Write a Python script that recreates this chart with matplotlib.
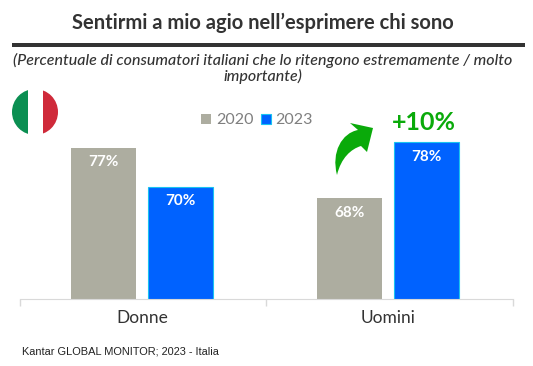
import matplotlib
matplotlib.use('Agg')
import matplotlib.pyplot as plt
import matplotlib.patches as patches
from matplotlib.path import Path

W, H = 533, 366

categories = ['Donne', 'Uomini']
years = ['2020', '2023']
values_2020 = [77, 68]
values_2023 = [70, 78]
change_label = '+10%'

GREY = '#ADADA0'
BLUE = '#0062FF'
DARK = '#333333'
GREEN = '#0AAA0A'

plt.rcParams['font.family'] = ['Lato', 'DejaVu Sans']

fig = plt.figure(figsize=(W / 100, H / 100), dpi=100)

# overlay in pixel coordinates for title rule, flag and arrow
over = fig.add_axes([0, 0, 1, 1])
over.set_xlim(0, W)
over.set_ylim(H, 0)
over.axis('off')

# chart axes
left, right, top, bottom = 20, 512.5, 100, 298.5
ax = fig.add_axes([left / W, 1 - bottom / H, (right - left) / W, (bottom - top) / H])
ax.patch.set_alpha(0)
ax.set_xlim(0, 2)
ax.set_ylim(50, 50 + (bottom - top) / 5.58)

x = [0.495, 1.495]
bw = 0.264
off = 0.155
b1 = ax.bar([i - off for i in x], values_2020, bw, color=GREY, label=years[0])
b2 = ax.bar([i + off for i in x], values_2023, bw, color=BLUE, edgecolor='#19C3F0', lw=0.8, label=years[1])

for bars in (b1, b2):
    for rect in bars:
        h = rect.get_height()
        ax.text(rect.get_x() + rect.get_width() / 2, h - 2.6, f'{h}%', ha='center', va='center',
                color='white', fontsize=11, weight='bold')

for s in ['top', 'left', 'right']:
    ax.spines[s].set_visible(False)
ax.spines['bottom'].set_color('#D9D9D9')
ax.set_yticks([])
ax.set_xticks([0, 1, 2])
ax.set_xticklabels([])
ax.tick_params(axis='x', length=5, color='#D9D9D9', width=1)
ax.set_xticks(x, minor=True)
ax.set_xticklabels(categories, minor=True, fontsize=12.5, color=DARK)
ax.tick_params(axis='x', which='minor', length=0, pad=8)

# title block
over.text(263, 23, 'Sentirmi a mio agio nell’esprimere chi sono', ha='center', va='center',
          fontsize=14.5, weight='bold', color=DARK)
over.add_patch(patches.Rectangle((12, 43), 513, 4, fc=DARK, ec='none'))
over.text(263, 68.5, '(Percentuale di consumatori italiani che lo ritengono estremamente / molto\nimportante)',
          ha='center', va='center', fontsize=11.5, style='italic', weight=500, color=DARK, linespacing=1.05)

# legend
ax.legend(handles=[b1, b2], loc='center', bbox_to_anchor=((257 - left) / (right - left), (bottom - 120.5) / (bottom - top)),
          ncol=2, frameon=False, fontsize=11.5, labelcolor='#7F7F7F', handlelength=0.62, handleheight=0.62,
          handletextpad=0.3, columnspacing=0.45, borderpad=0, borderaxespad=0)

# flag
circle = patches.Circle((35, 112), 23, transform=over.transData, fc='none', ec='none')
over.add_patch(circle)
for x0, col in [(12, '#0B8F52'), (27.5, 'white'), (43, '#CF2A3A')]:
    stripe = patches.Rectangle((x0, 88), 15.5, 48, fc=col, ec='none')
    over.add_patch(stripe)
    stripe.set_clip_path(circle)

# growth arrow
verts = [(337, 175), (331, 152), (342, 133), (358, 130), (350, 123), (373, 128), (367, 152),
         (361, 146), (351, 149), (341, 158), (337, 175), (337, 175)]
codes = [Path.MOVETO, Path.CURVE4, Path.CURVE4, Path.CURVE4, Path.LINETO, Path.LINETO, Path.LINETO,
         Path.LINETO, Path.CURVE4, Path.CURVE4, Path.CURVE4, Path.CLOSEPOLY]
over.add_patch(patches.PathPatch(Path(verts, codes), fc=GREEN, ec='none'))
over.text(424, 122, change_label, ha='center', va='center', fontsize=18, weight='bold', color=GREEN)

# source
over.text(22, 352, 'Kantar GLOBAL MONITOR; 2023 - Italia', ha='left', va='center', fontsize=7.9,
          family=['Liberation Sans'], color='#222222')

fig.savefig('out.png', dpi=100)
